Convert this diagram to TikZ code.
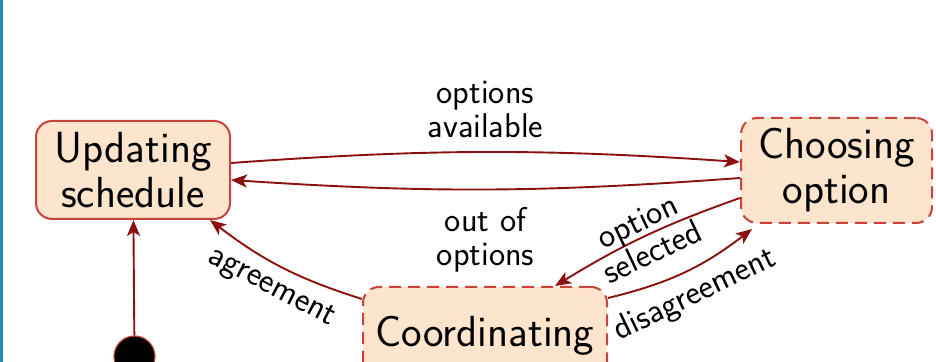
\documentclass[tikz,border=0pt]{standalone}
\usetikzlibrary{arrows.meta}
\definecolor{nodefill}{HTML}{FDE4CC}
\definecolor{nodeborder}{HTML}{C8433B}
\definecolor{edgecol}{HTML}{8B1010}
\definecolor{barcol}{HTML}{1A93AE}
\begin{document}
\begin{tikzpicture}[x=0.5pt,y=0.5pt,
  state/.style={rectangle, rounded corners=8pt, draw=nodeborder, fill=nodefill, line width=1pt,
    align=center, inner sep=0pt, font=\sffamily\fontsize{21.8}{22.5}\selectfont},
  dstate/.style={state, dash pattern=on 6pt off 3.5pt},
  tr/.style={draw=edgecol, line width=0.95pt, -{Stealth[length=8pt,width=6.5pt,inset=2pt]}},
  lab/.style={font=\sffamily\fontsize{17.2}{17}\selectfont, align=center, text=black}
]
\useasboundingbox (0,0) rectangle (936,362);
\fill[barcol] (0,0) rectangle (3,362);
\node[state, minimum width=97pt, minimum height=49pt] (U) at (133,192) {Updating\\schedule};
\node[dstate, minimum width=95.5pt, minimum height=52.5pt] (C) at (836.5,191.5) {Choosing\\option};
\node[dstate, minimum width=122pt, minimum height=49pt] (K) at (485,26) {Coordinating};
\node[circle, fill=black, draw=nodeborder, line width=0.6pt, minimum size=20.5pt, inner sep=0pt] (I) at (134.5,5.5) {};
\draw[tr] (I) -- (U);
\draw[tr] ([yshift=3.5pt]U.east) to[bend left=4]
  node[lab, above=3.5pt] {options\\available} ([yshift=4.25pt]C.west);
\draw[tr] ([yshift=-3.75pt]C.west) to[bend left=4]
  node[lab, below=5pt] {out of\\options} ([yshift=-5pt]U.east);
\draw[tr] ([yshift=-6.5pt]K.north west) to[bend left=10]
  node[lab, sloped, below=1.5pt] {agreement} ([xshift=-10.5pt]U.south east);
\draw[tr] ([yshift=-13.75pt]C.west) to[bend right=6]
  node[lab, sloped] {option\\selected} ([xshift=35pt]K.north);
\draw[tr] ([yshift=-6pt]K.north east) to[bend right=12]
  node[lab, sloped, below=1pt] {disagreement} ([xshift=6pt,yshift=-2.5pt]C.south west);
\end{tikzpicture}
\end{document}
